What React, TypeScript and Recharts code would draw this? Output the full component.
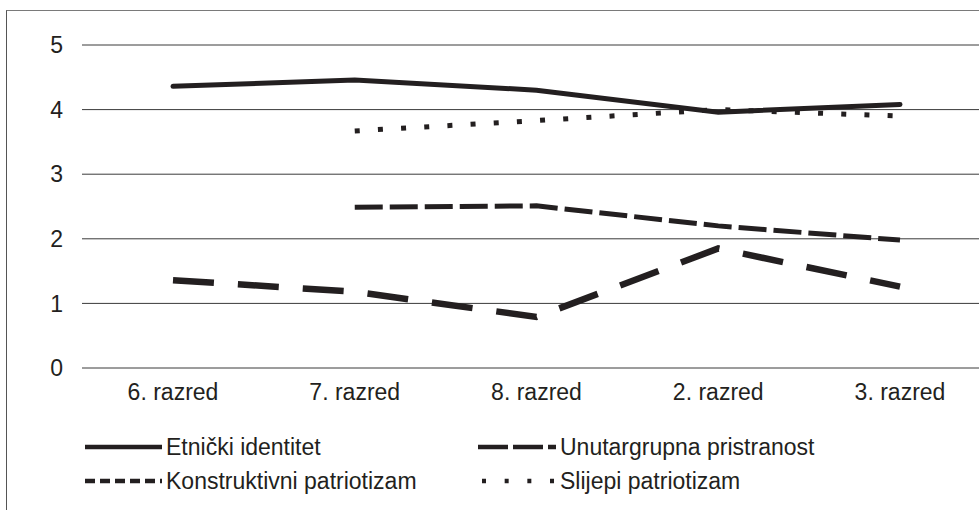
import React from 'react';
import { LineChart, Line, XAxis, YAxis, CartesianGrid } from 'recharts';

// Grades on the x axis
const grades = ['6. razred', '7. razred', '8. razred', '2. razred', '3. razred'];

// Mean scores per grade
const etnickiIdentitet = [4.36, 4.46, 4.3, 3.96, 4.08];
const unutargrupnaPristranost = [1.36, 1.18, 0.79, 1.85, 1.26];
const konstruktivniPatriotizam = [null, 2.49, 2.51, 2.2, 1.98];
const slijepiPatriotizam = [null, 3.67, 3.83, 4.0, 3.9];

const yTicks = [0, 1, 2, 3, 4, 5];

const INK = '#231f20';
const FONT = '"Liberation Sans", Arial, sans-serif';
const FS = 23;

const data = grades.map((grade, i) => ({
  grade,
  etnicki: etnickiIdentitet[i],
  unutargrupna: unutargrupnaPristranost[i],
  konstruktivni: konstruktivniPatriotizam[i],
  slijepi: slijepiPatriotizam[i],
}));

// Legend symbol for each series, drawn like the Excel swatches
const LegendItem = ({ left, top, label, width, dash }: any) => (
  <div style={{ position: 'absolute', left, top, display: 'flex', alignItems: 'center', height: 30 }}>
    <svg width={width} height={10} style={{ marginRight: 4 }}>
      <line x1={0} y1={5} x2={width} y2={5} stroke={INK} strokeWidth={dash.w} strokeDasharray={dash.a} />
    </svg>
    <span style={{ fontSize: FS, color: INK, whiteSpace: 'nowrap' }}>{label}</span>
  </div>
);

export default function App() {
  return (
    <div
      style={{
        position: 'absolute',
        left: 0,
        top: 0,
        width: 979,
        height: 510,
        overflow: 'hidden',
        background: '#fff',
        fontFamily: FONT,
      }}
    >
      {/* frame of the figure */}
      <div
        style={{
          position: 'absolute',
          left: 6,
          top: 10,
          width: 1000,
          height: 600,
          borderTop: '1.5px solid #7a7a7a',
          borderLeft: '1.5px solid #555',
        }}
      />
      <LineChart
        width={979}
        height={510}
        data={data}
        margin={{ top: 45, right: 0, bottom: 102, left: 0 }}
        style={{ position: 'absolute', left: 0, top: 0 }}
      >
        <CartesianGrid vertical={false} stroke="#3a3a3a" strokeWidth={1} />
        <XAxis
          dataKey="grade"
          axisLine={false}
          tickLine={false}
          height={40}
          padding={{ left: 91, right: 79 }}
          tickMargin={10}
          tick={{ fontSize: FS, fill: INK, fontFamily: FONT }}
        />
        <YAxis
          domain={[0, 5]}
          ticks={yTicks}
          axisLine={false}
          tickLine={false}
          width={82}
          tickMargin={13}
          tick={{ fontSize: FS, fill: INK, fontFamily: FONT }}
        />
        <Line
          dataKey="slijepi"
          stroke={INK}
          strokeWidth={5}
          strokeDasharray="5 18.2"
          dot={false}
          isAnimationActive={false}
        />
        <Line
          dataKey="konstruktivni"
          stroke={INK}
          strokeWidth={5}
          strokeDasharray="28 7"
          dot={false}
          isAnimationActive={false}
        />
        <Line
          dataKey="unutargrupna"
          stroke={INK}
          strokeWidth={6.5}
          strokeDasharray="41 24"
          dot={false}
          isAnimationActive={false}
        />
        <Line
          dataKey="etnicki"
          stroke={INK}
          strokeWidth={5}
          strokeLinecap="round"
          dot={false}
          isAnimationActive={false}
        />
      </LineChart>

      <LegendItem left={85} top={432} width={77} label="Etnički identitet" dash={{ w: 4.5 }} />
      <LegendItem left={478} top={432} width={78} label="Unutargrupna pristranost" dash={{ w: 4.5, a: '30 5' }} />
      <LegendItem left={85} top={466} width={77} label="Konstruktivni patriotizam" dash={{ w: 4.5, a: '10 5' }} />
      <LegendItem left={482} top={466} width={74} label="Slijepi patriotizam" dash={{ w: 4.5, a: '4 18.67' }} />
    </div>
  );
}
